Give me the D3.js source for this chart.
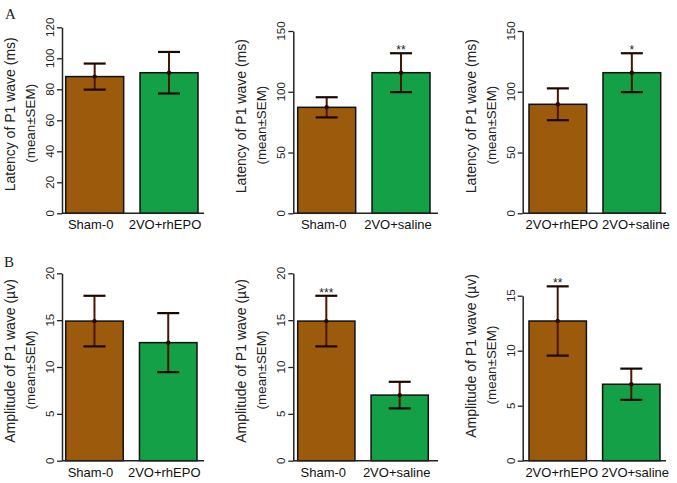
<!DOCTYPE html>
<html><head><meta charset="utf-8">
<script src="https://cdn.jsdelivr.net/npm/d3@7"></script>
<style>body{margin:0;background:#fff}svg{display:block}</style>
</head><body>
<svg id="c" width="677" height="483"></svg>
<script>
// ---- data ----
const groupsA1 = ["Sham-0", "2VO+rhEPO"];
const groupsA2 = ["Sham-0", "2VO+saline"];
const groupsA3 = ["2VO+rhEPO", "2VO+saline"];
const latencyMean1 = [88.2, 90.7];
const latencySem1 = [8.4, 13.4];
const latencyMean2 = [87.2, 115.7];
const latencySem2 = [8.3, 16.0];
const latencyMean3 = [89.7, 115.7];
const latencySem3 = [13.1, 16.0];
const amplitudeMean1 = [14.9, 12.6];
const amplitudeSem1 = [2.7, 3.15];
const amplitudeMean2 = [14.9, 7.0];
const amplitudeSem2 = [2.7, 1.42];
const amplitudeMean3 = [12.7, 6.95];
const amplitudeSem3 = [3.15, 1.42];
const stars1 = ["", ""];
const stars2 = ["", "**"];
const stars3 = ["", "*"];
const stars4 = ["", ""];
const stars5 = ["***", ""];
const stars6 = ["**", ""];
const ticksLat120 = [0, 20, 40, 60, 80, 100, 120];
const ticksLat150 = [0, 50, 100, 150];
const ticksAmp20 = [0, 5, 10, 15, 20];
const ticksAmp15 = [0, 5, 10, 15];
const latencyTitle = "Latency of P1 wave (ms)";
const amplitudeTitle = "Amplitude of P1 wave (\u00b5v)";
const semTitle = "(mean\u00b1SEM)";
const barColors = ["#9c5a0c", "#13a046"];

const svg = d3.select("#c");
const font = "'Liberation Sans', Arial, sans-serif";

function panel(o) {
  const g = svg.append("g");
  const y = d3.scaleLinear().domain([0, d3.max(o.ticks)]).range([o.yb, o.yt]);
  const x = d3.scaleBand().domain(o.groups).range([o.bx0, o.bx1]).paddingInner(0.22).paddingOuter(0);
  // bars
  g.selectAll("rect.bar").data(o.groups).join("rect")
    .attr("x", d => x(d)).attr("width", x.bandwidth())
    .attr("y", (d, i) => y(o.mean[i])).attr("height", (d, i) => y(0) - y(o.mean[i]))
    .attr("fill", (d, i) => barColors[i]).attr("stroke", "#111").attr("stroke-width", 1.5);
  // x baseline
  g.append("line").attr("x1", o.ax).attr("x2", o.xend).attr("y1", y(0)).attr("y2", y(0))
    .attr("stroke", "#222").attr("stroke-width", 1.5);
  // error bars
  o.groups.forEach((d, i) => {
    const cx = x(d) + x.bandwidth() / 2;
    const hi = y(o.mean[i] + o.sem[i]), lo = y(o.mean[i] - o.sem[i]);
    g.append("line").attr("x1", cx).attr("x2", cx).attr("y1", hi).attr("y2", lo)
      .attr("stroke", "#4a1600").attr("stroke-width", 2);
    [hi, lo].forEach(v => g.append("line").attr("x1", cx - 11).attr("x2", cx + 11)
      .attr("y1", v).attr("y2", v).attr("stroke", "#1a0800").attr("stroke-width", 2.2));
    g.append("circle").attr("cx", cx).attr("cy", y(o.mean[i])).attr("r", 2.2).attr("fill", "#2a0a00");
    if (o.stars[i]) {
      g.append("text").attr("x", cx).attr("y", hi + 1).attr("text-anchor", "middle")
        .attr("font-family", font).attr("font-size", 12).attr("fill", "#222").text(o.stars[i]);
    }
  });
  // y axis
  const ax = g.append("g").attr("transform", `translate(${o.ax},0)`)
    .call(d3.axisLeft(y).tickValues(o.ticks).tickSize(5).tickSizeOuter(0).tickFormat(d3.format("d")));
  ax.select(".domain").attr("stroke", "#222").attr("stroke-width", 1.5);
  ax.selectAll(".tick line").attr("stroke", "#222").attr("stroke-width", 1.3);
  ax.selectAll(".tick text").remove();
  o.ticks.forEach(t => {
    g.append("text").attr("transform", `translate(${o.ax - 8},${y(t)}) rotate(-90)`)
      .attr("text-anchor", "middle").attr("font-family", font).attr("font-size", 11.5)
      .attr("fill", "#222").text(t);
  });
  // titles
  const mid = o.titleMid !== undefined ? o.titleMid : (o.yb + o.yt) / 2;
  g.append("text").attr("transform", `translate(${o.ax - 47},${mid - 6}) rotate(-90)`)
    .attr("text-anchor", "middle").attr("font-family", font).attr("font-size", 14)
    .attr("fill", "#222").text(o.title);
  g.append("text").attr("transform", `translate(${o.ax - 27},${mid + 3}) rotate(-90)`)
    .attr("text-anchor", "middle").attr("font-family", font).attr("font-size", 13.4)
    .attr("fill", "#222").text(semTitle);
  // category labels
  g.selectAll("text.cat").data(o.groups).join("text")
    .attr("x", d => x(d) + x.bandwidth() / 2 + o.labelShift).attr("y", y(0) + 16)
    .attr("text-anchor", "middle").attr("font-family", font).attr("font-size", 13)
    .attr("fill", "#111").text(d => d);
}

panel({groups: groupsA1, mean: latencyMean1, sem: latencySem1, stars: stars1, ticks: ticksLat120,
  ax: 62, yb: 213.3, yt: 27.3, bx0: 65.7, bx1: 198, xend: 204, title: latencyTitle, labelShift: -4});
panel({groups: groupsA2, mean: latencyMean2, sem: latencySem2, stars: stars2, ticks: ticksLat150,
  ax: 293.3, yb: 213.3, yt: 31, bx0: 297.7, bx1: 430, xend: 438, title: latencyTitle, labelShift: -3});
panel({groups: groupsA3, mean: latencyMean3, sem: latencySem3, stars: stars3, ticks: ticksLat150,
  ax: 522.7, yb: 213.3, yt: 31, bx0: 529, bx1: 660.7, xend: 666, title: latencyTitle, labelShift: 4});
panel({groups: groupsA1, mean: amplitudeMean1, sem: amplitudeSem1, stars: stars4, ticks: ticksAmp20,
  ax: 62, yb: 460.7, yt: 273.3, bx0: 65.7, bx1: 197, xend: 204, title: amplitudeTitle, labelShift: -4});
panel({groups: groupsA2, mean: amplitudeMean2, sem: amplitudeSem2, stars: stars5, ticks: ticksAmp20,
  ax: 293.3, yb: 460.7, yt: 273.3, bx0: 297.7, bx1: 428.3, xend: 438, title: amplitudeTitle, labelShift: -3});
panel({groups: groupsA3, mean: amplitudeMean3, sem: amplitudeSem3, stars: stars6, ticks: ticksAmp15,
  ax: 522.7, yb: 460.7, yt: 295.7, bx0: 529, bx1: 660, xend: 666, title: amplitudeTitle, labelShift: 4,
  titleMid: 362});

svg.append("text").attr("x", 5).attr("y", 19).attr("font-family", "'Liberation Serif', 'Times New Roman', serif")
  .attr("font-size", 15).attr("fill", "#222").text("A");
svg.append("text").attr("x", 4).attr("y", 267).attr("font-family", "'Liberation Serif', 'Times New Roman', serif")
  .attr("font-size", 15).attr("fill", "#222").text("B");
</script>
</body></html>
